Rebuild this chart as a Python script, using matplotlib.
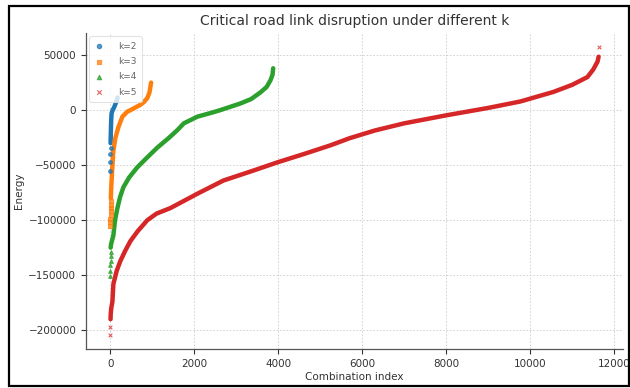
import numpy as np
import matplotlib
matplotlib.use("Agg")
import matplotlib.pyplot as plt
from matplotlib.patches import Rectangle

# sorted energies per k as (combination index, energy)
# "tail" = the sparse single markers at the ends, "curve" = the dense band
k2_tail_idx = [0, 1, 2, 3]
k2_tail_energy = [-55000, -47000, -40000, -34000]
k2_idx = [4, 8, 14, 20, 28, 40, 55, 75, 100, 125, 150, 171]
k2_energy = [-30000, -24000, -15000, -8000, -3000, -1500, 0, 1500, 3500, 6000, 8500, 11500]

k3_tail_idx = [0, 1, 2, 3, 4, 5, 6, 7]
k3_tail_energy = [-105000, -102000, -99000, -95000, -92000, -89000, -86000, -83000]
k3_idx = [10, 20, 45, 70, 120, 190, 285, 400, 480, 600, 700, 790, 880, 930, 969]
k3_energy = [-80000, -70000, -52000, -37000, -25000, -15500, -6000, -1500, 0,
             2500, 4500, 7000, 11000, 16000, 25000]

k4_tail_idx = [0, 1, 2, 3, 4, 5]
k4_tail_energy = [-151000, -146000, -141000, -137000, -133000, -129000]
k4_idx = [6, 15, 35, 70, 110, 167, 230, 310, 450, 640, 850, 1120, 1400, 1600,
          1750, 2070, 2400, 2620, 3095, 3350, 3570, 3720, 3810, 3860, 3876]
k4_energy = [-125000, -122000, -119000, -114000, -100000, -89000, -79000, -70000,
             -61000, -52000, -44000, -34000, -25000, -18000, -12000, -6000, -2500,
             0, 6000, 10000, 16000, 21000, 27000, 32000, 38000]

k5_tail_idx = [0, 1, 11627]
k5_tail_energy = [-204000, -197000, 57000]
k5_idx = [3, 8, 20, 48, 71, 150, 238, 350, 476, 650, 880, 1100, 1430, 2070, 2690,
          3400, 3975, 4600, 5240, 5700, 6300, 7000, 8020, 9000, 9760, 10550, 11000,
          11360, 11500, 11600, 11626]
k5_energy = [-190000, -185000, -180000, -174000, -158000, -146000, -137000, -128000,
             -119000, -110000, -100000, -94000, -89000, -76000, -64000, -55000,
             -47500, -40000, -32000, -25500, -18500, -12000, -4600, 2000, 7800,
             16500, 23000, 30000, 37000, 44000, 48500]

labels = ["k=2", "k=3", "k=4", "k=5"]
colors = ["#1f77b4", "#ff7f0e", "#2ca02c", "#d62728"]
markers = ["o", "s", "^", "x"]

INK = "#333333"
plt.rcParams.update({
    "font.family": "DejaVu Sans",
    "font.size": 7.5,
    "axes.edgecolor": "#555555",
    "axes.linewidth": 0.9,
    "xtick.color": INK,
    "ytick.color": INK,
    "xtick.labelcolor": INK,
    "ytick.labelcolor": INK,
    "xtick.labelsize": 7.5,
    "ytick.labelsize": 7.5,
    "xtick.major.size": 3.5,
    "ytick.major.size": 3.5,
})

fig = plt.figure(figsize=(6.3, 3.88), dpi=100)
ax = fig.add_axes([0.1365, 0.1005, 0.8525, 0.8145])

series = [
    (k2_tail_idx, k2_tail_energy, k2_idx, k2_energy),
    (k3_tail_idx, k3_tail_energy, k3_idx, k3_energy),
    (k4_tail_idx, k4_tail_energy, k4_idx, k4_energy),
    (k5_tail_idx, k5_tail_energy, k5_idx, k5_energy),
]
for (tx, ty, cx, cy), lab, c, m in zip(series, labels, colors, markers):
    ax.plot(cx, cy, "-", color=c, lw=3.2, solid_capstyle="round",
            solid_joinstyle="round", zorder=2)
    ax.scatter(tx, ty, s=7, marker=m, color=c, alpha=0.75,
               linewidths=0.8, label=lab, zorder=3)

ax.set_title("Critical road link disruption under different k",
             fontsize=10, color=INK, pad=6)
ax.set_xlabel("Combination index", fontsize=7.5, color=INK, labelpad=2)
ax.set_ylabel("Energy", fontsize=7.5, color=INK, labelpad=3)
ax.set_xticks(np.arange(0, 12001, 2000))
ax.set_yticks(np.arange(-200000, 50001, 50000))
ax.grid(True, ls=(0, (2, 2)), lw=0.6, color="#cccccc")
ax.set_axisbelow(True)
for s in ("top", "right"):
    ax.spines[s].set_visible(False)

leg = ax.legend(loc="upper left", fontsize=6.5, frameon=True, markerscale=1.2,
                handlelength=1.0, handletextpad=1.6, borderpad=0.6,
                labelspacing=0.7, borderaxespad=0.35)
leg.get_frame().set_edgecolor("#dddddd")
leg.get_frame().set_linewidth(0.8)
for t in leg.get_texts():
    t.set_color("#666666")

# black frame around the screenshot
fig.add_artist(Rectangle((0.0143, 0.005), 0.9837, 0.9795, transform=fig.transFigure,
                         fill=False, edgecolor="black", lw=1.6))

fig.savefig("out.png", dpi=100)
